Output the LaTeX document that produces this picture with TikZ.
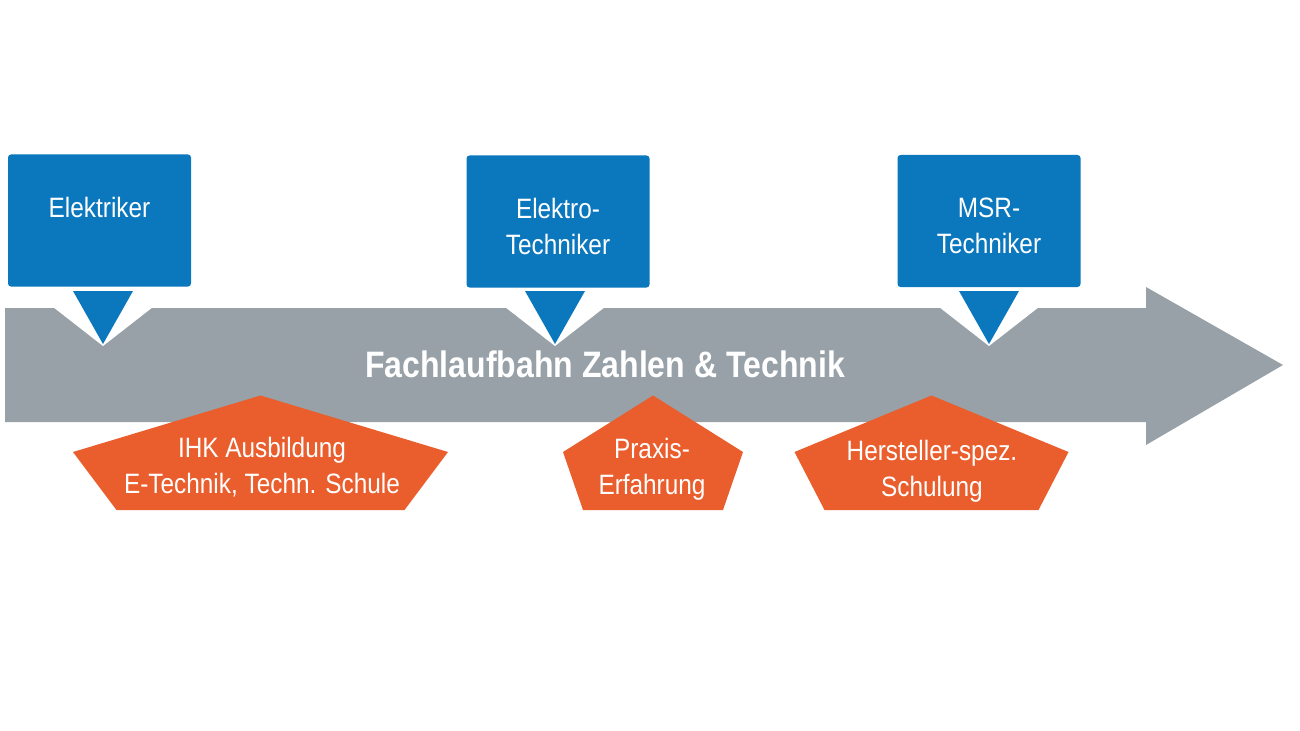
\documentclass[tikz,border=0pt]{standalone}
\usepackage{fontspec}
\setmainfont{Liberation Sans}[FakeStretch=0.87]
\usepackage{xcolor}
\usetikzlibrary{positioning}

\definecolor{jobblue}{RGB}{11,119,189}
\definecolor{trackgray}{RGB}{151,161,167}
\definecolor{steporange}{RGB}{234,93,44}

\begin{document}
\begin{tikzpicture}[x=0.75pt,y=-0.75pt,
  jobbox/.style={fill=jobblue, rounded corners=2.25pt, minimum width=137.25pt,
    minimum height=99pt, inner sep=0pt},
  jobtext/.style={text=white, font=\fontsize{21}{27}\selectfont, align=center, inner sep=0pt},
  steptext/.style={jobtext, anchor=north},
  titletext/.style={text=white, font=\fontsize{27.6}{32}\selectfont\bfseries, inner sep=0pt}]

\useasboundingbox (0,0) rectangle (1300,731);

%%% --- Track Arrow --- %%%
\fill[trackgray] (5,308) -- (1146,308) -- (1146,287) -- (1283,365)
  -- (1146,445) -- (1146,422) -- (5,422) -- cycle;


%%% --- Training Steps (below) --- %%%
\foreach \cx/\tw/\bw in {260.5/187.5/144, 653/90/70, 931.5/137/107}
  \fill[steporange] (\cx,395.5) -- (\cx+\tw,452) -- (\cx+\bw,510)
    -- (\cx-\bw,510) -- (\cx-\tw,452) -- cycle;

\node[steptext] (ihk) at (262,437) {IHK Ausbildung\\E-Technik, Techn. Schule};
\node[steptext] (praxis) at (652,438) {Praxis-\\Erfahrung};
\node[steptext] (schulung) at (932,440) {Hersteller-spez.\\Schulung};


%%% --- Job Callouts (above) --- %%%
% white notch and blue pointer
\foreach \px in {103,555,989} {
  \fill[white] (\px-50,307) -- (\px+50,307) -- (\px,346) -- cycle;
  \fill[jobblue] (\px-30,291) -- (\px+30,291) -- (\px,344) -- cycle;
}

\node[jobbox] (elektriker) at (99.5,220.5) {};
\node[jobbox] (elektrotech) at (558,221.5) {};
\node[jobbox] (msrtech) at (989,221) {};

\node[jobtext, below=32.25pt of elektriker.north] (elektrikertext) {Elektriker};
\node[jobtext, below=32.25pt of elektrotech.north] (elektrotechtext) {Elektro-\\Techniker};
\node[jobtext, below=32.25pt of msrtech.north] (msrtechtext) {MSR-\\Techniker};


%%% --- Title --- %%%
\node[titletext] (fachlaufbahn) at (605,364) {Fachlaufbahn Zahlen \& Technik};

\end{tikzpicture}
\end{document}
